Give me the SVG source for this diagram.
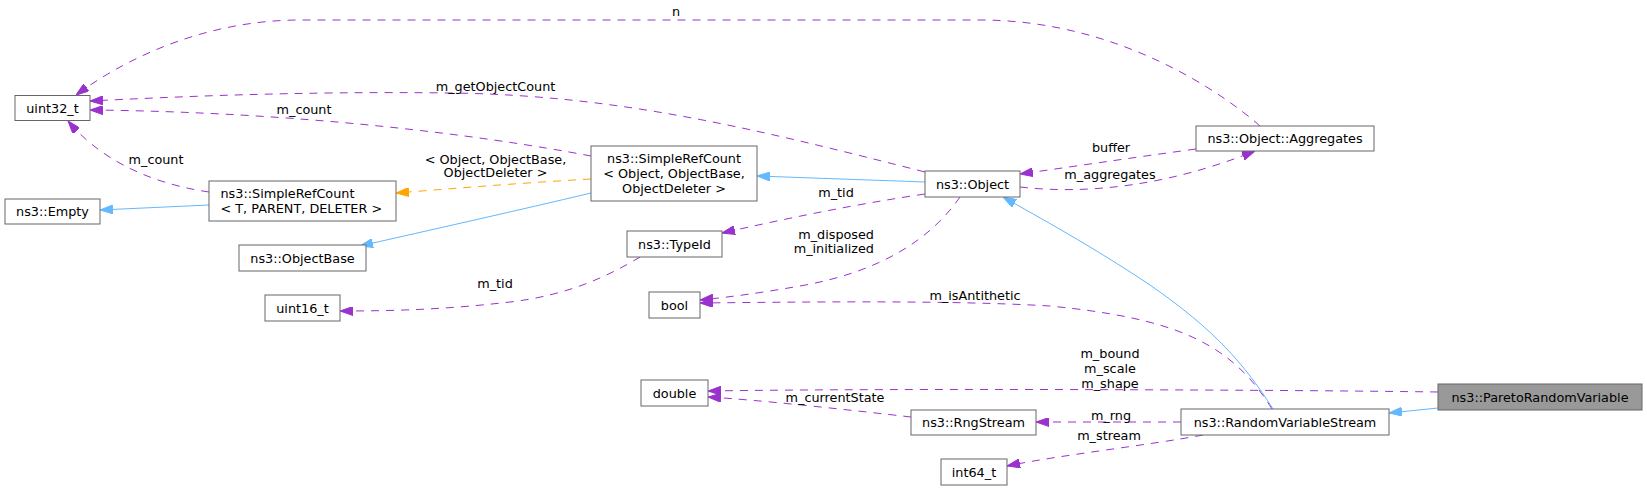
<svg xmlns="http://www.w3.org/2000/svg" width="1647" height="490" viewBox="0 0 1647 490">
<style>
.node rect{fill:#ffffff;stroke:#666666;stroke-width:1}
.node.hl rect{fill:#999999}
text{font-family:"DejaVu Sans","Liberation Sans",sans-serif;font-size:12.8px;fill:#000000}
.c{text-anchor:middle}
.e{text-anchor:end}
.edges path{fill:none;stroke-width:1}
.p{stroke:#9a32cd;stroke-dasharray:8,7}
.b{stroke:#63b8ff}
.o{stroke:#ffa500;stroke-dasharray:8,7}
</style>
<defs>
<marker id="ap" viewBox="0 0 13 9" refX="13" refY="4.5" markerWidth="13" markerHeight="9" markerUnits="userSpaceOnUse" orient="auto"><path d="M0,0 L13,4.5 L0,9 z" fill="#9a32cd" stroke="#9a32cd"/></marker>
<marker id="ab" viewBox="0 0 13 9" refX="13" refY="4.5" markerWidth="13" markerHeight="9" markerUnits="userSpaceOnUse" orient="auto"><path d="M0,0 L13,4.5 L0,9 z" fill="#63b8ff" stroke="#63b8ff"/></marker>
<marker id="ao" viewBox="0 0 13 9" refX="13" refY="4.5" markerWidth="13" markerHeight="9" markerUnits="userSpaceOnUse" orient="auto"><path d="M0,0 L13,4.5 L0,9 z" fill="#ffa500" stroke="#ffa500"/></marker>
</defs>
<rect x="0" y="0" width="1647" height="490" fill="#ffffff"/>
<g class="edges">
<path class="p" marker-end="url(#ap)" d="M1260,126 C1225,95 1120,20 980,20 L300,20 C220,20 140,48 76,95"/>
<path class="p" marker-end="url(#ap)" d="M925,172 C760,130 620,95 450,93 C300,91 170,97 90,101"/>
<path class="p" marker-end="url(#ap)" d="M591,156 C480,135 300,112 90,110"/>
<path class="p" marker-end="url(#ap)" d="M209,192 C160,185 105,165 68,121"/>
<path class="o" marker-end="url(#ao)" d="M591,179 C520,183 460,188 396,193"/>
<path class="b" marker-end="url(#ab)" d="M209,205 L100,210"/>
<path class="b" marker-end="url(#ab)" d="M591,193 C520,210 430,230 360,246"/>
<path class="b" marker-end="url(#ab)" d="M925,182 L757,176"/>
<path class="p" marker-end="url(#ap)" d="M925,194 C850,205 780,220 722,233"/>
<path class="p" marker-end="url(#ap)" d="M960,197 C930,240 880,272 800,286 C760,293 730,297 700,300"/>
<path class="p" marker-end="url(#ap)" d="M1020,187 C1090,195 1170,185 1255,151"/>
<path class="p" marker-end="url(#ap)" d="M1196,149 C1130,158 1070,167 1020,174"/>
<path class="p" marker-end="url(#ap)" d="M640,257 C610,275 570,295 510,302 C450,309 400,311 340,311"/>
<path class="p" marker-end="url(#ap)" d="M1272,409 C1230,340 1170,318 1050,306 C950,300 800,302 700,303"/>
<path class="b" marker-end="url(#ab)" d="M1273,409 C1245,365 1215,330 1150,285 C1090,245 1040,218 1003,197"/>
<path class="p" marker-end="url(#ap)" d="M1438,392 C1300,390 900,388 708,391"/>
<path class="p" marker-end="url(#ap)" d="M1181,422 L1036,422"/>
<path class="p" marker-end="url(#ap)" d="M1203,435 C1150,445 1060,455 1007,466"/>
<path class="p" marker-end="url(#ap)" d="M911,417 C850,410 760,400 708,397"/>
<path class="b" marker-end="url(#ab)" d="M1438,408 L1389,413"/>
<text class="c" x="676" y="15.5">n</text>
<text class="c" x="495.5" y="91">m_getObjectCount</text>
<text class="c" x="304" y="113.5">m_count</text>
<text class="c" x="156" y="163.5">m_count</text>
<text class="c" x="495.5" y="163.5">&lt; Object, ObjectBase,</text>
<text class="c" x="495.5" y="177">ObjectDeleter &gt;</text>
<text class="c" x="1111" y="151.5">buffer</text>
<text class="c" x="1110" y="178.5">m_aggregates</text>
<text class="c" x="836" y="196.5">m_tid</text>
<text class="e" x="874" y="238.5">m_disposed</text>
<text class="e" x="874" y="252.5">m_initialized</text>
<text class="c" x="495" y="288">m_tid</text>
<text class="c" x="975" y="300">m_isAntithetic</text>
<text class="c" x="1110" y="357.5">m_bound</text>
<text class="c" x="1110" y="372.5">m_scale</text>
<text class="c" x="1110" y="387.5">m_shape</text>
<text class="c" x="835" y="401.5">m_currentState</text>
<text class="c" x="1111" y="420">m_rng</text>
<text class="c" x="1109" y="439.5">m_stream</text>
</g>
<g id="node_uint32" class="node"><rect x="15" y="95.5" width="75" height="25"/><text class="c" x="52.5" y="112.5">uint32_t</text></g>
<g id="node_empty" class="node"><rect x="5" y="199" width="95" height="25"/><text class="c" x="52.5" y="216">ns3::Empty</text></g>
<g id="node_src_t" class="node"><rect x="209" y="181" width="187" height="40"/><text x="220.5" y="198">ns3::SimpleRefCount</text><text x="220.5" y="213">&lt; T, PARENT, DELETER &gt;</text></g>
<g id="node_objectbase" class="node"><rect x="239" y="245" width="127" height="26"/><text class="c" x="302.5" y="262.5">ns3::ObjectBase</text></g>
<g id="node_uint16" class="node"><rect x="265" y="295" width="75" height="26"/><text class="c" x="302.5" y="312.5">uint16_t</text></g>
<g id="node_src_obj" class="node"><rect x="591" y="146" width="166" height="55"/><text class="c" x="674" y="163">ns3::SimpleRefCount</text><text class="c" x="674" y="178">&lt; Object, ObjectBase,</text><text class="c" x="674" y="193">ObjectDeleter &gt;</text></g>
<g id="node_typeid" class="node"><rect x="627" y="231" width="95" height="26"/><text class="c" x="674.5" y="248.5">ns3::TypeId</text></g>
<g id="node_bool" class="node"><rect x="649" y="292" width="51" height="26"/><text class="c" x="674.5" y="309.5">bool</text></g>
<g id="node_double" class="node"><rect x="641" y="380" width="67" height="26"/><text class="c" x="674.5" y="397.5">double</text></g>
<g id="node_object" class="node"><rect x="925" y="171" width="95" height="26"/><text class="c" x="972.5" y="188.5">ns3::Object</text></g>
<g id="node_rngstream" class="node"><rect x="911" y="410" width="125" height="25"/><text class="c" x="973.5" y="427">ns3::RngStream</text></g>
<g id="node_int64" class="node"><rect x="941" y="459" width="66" height="26"/><text class="c" x="974" y="476.5">int64_t</text></g>
<g id="node_aggregates" class="node"><rect x="1196" y="126" width="178" height="25"/><text class="c" x="1285" y="143">ns3::Object::Aggregates</text></g>
<g id="node_rvs" class="node"><rect x="1181" y="409" width="208" height="26"/><text class="c" x="1285" y="426.5">ns3::RandomVariableStream</text></g>
<g id="node_pareto" class="node hl"><rect x="1438" y="384" width="204" height="26"/><text class="c" x="1540" y="401.5">ns3::ParetoRandomVariable</text></g>
</svg>
